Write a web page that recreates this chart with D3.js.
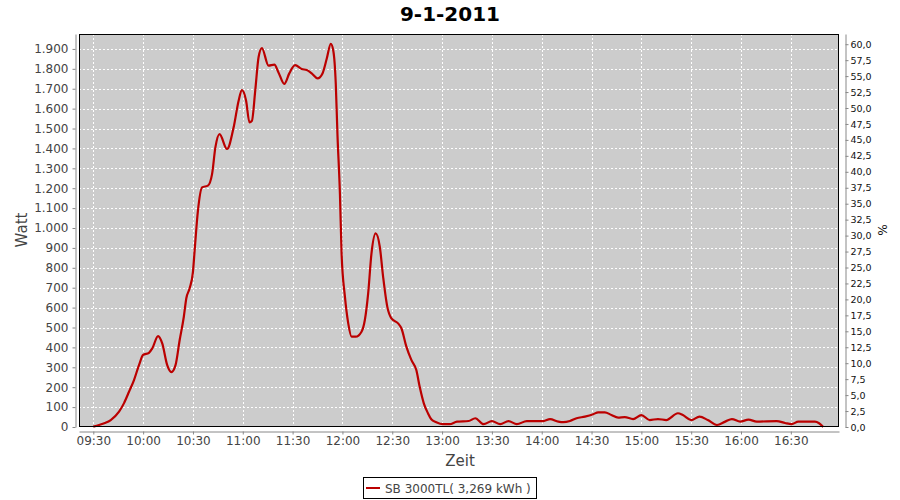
<!DOCTYPE html>
<html>
<head>
<meta charset="utf-8">
<script src="https://cdn.jsdelivr.net/npm/d3@7/dist/d3.min.js"></script>
<style>
  html, body { margin: 0; padding: 0; background: #ffffff; }
  svg { display: block; }
  text { font-family: "DejaVu Sans", sans-serif; }
</style>
</head>
<body>
<svg id="chart" width="900" height="500"></svg>
<script>
// ---- data ----
const title = "9-1-2011";
const seriesName = "SB 3000TL( 3,269 kWh )";
const times = [
  "09:30:00","09:33:30","09:37:00","09:40:30","09:45:30","09:48:30","09:51:30","09:54:30","09:57:30","10:00:00",
  "10:03:30","10:05:30","10:09:00","10:11:30","10:14:30","10:17:00","10:19:30","10:22:00","10:24:30","10:26:00",
  "10:28:00","10:30:00","10:31:00","10:33:00","10:35:30","10:39:00","10:41:30","10:43:30","10:46:00","10:50:30",
  "10:54:30","10:57:30","10:59:30","11:02:00","11:04:00","11:05:30","11:07:30","11:09:30","11:11:30","11:15:30",
  "11:19:00","11:21:30","11:25:00","11:28:00","11:31:30","11:35:30","11:38:30","11:41:30","11:45:00","11:48:00",
  "11:50:30","11:53:00","11:54:30","11:56:00","11:57:00","11:58:30","11:59:30","12:01:30","12:03:30","12:05:30",
  "12:08:00","12:11:30","12:13:30","12:15:30","12:17:30","12:20:00","12:22:30","12:24:30","12:27:00","12:29:30",
  "12:33:30","12:35:30","12:38:30","12:41:30","12:44:30","12:46:30","12:49:00","12:51:30","12:53:30","12:56:30",
  "13:00:30","13:04:30","13:09:00","13:16:00","13:20:00","13:25:00","13:30:00","13:35:00","13:40:00","13:45:00",
  "13:51:00","14:01:00","14:05:00","14:10:00","14:13:00","14:17:00","14:21:00","14:26:00","14:31:00","14:34:00",
  "14:38:00","14:42:00","14:46:00","14:50:00","14:55:00","15:00:00","15:05:00","15:10:00","15:15:00","15:22:00",
  "15:25:00","15:30:00","15:35:00","15:40:00","15:45:30","15:50:30","15:54:30","15:59:30","16:04:30","16:09:30",
  "16:21:30","16:26:30","16:30:30","16:34:30","16:44:30","16:47:00","16:49:30"
];
const watts = [
  2,10,20,35,77,120,177,236,311,362,
  373,395,457,420,311,276,311,437,554,647,
  697,780,886,1087,1204,1213,1271,1405,1472,1397,
  1506,1640,1693,1640,1531,1539,1690,1858,1904,1816,
  1821,1782,1724,1777,1819,1799,1794,1777,1752,1777,
  1849,1925,1891,1724,1472,1171,869,655,521,454,
  454,479,538,672,873,973,906,755,605,546,
  521,496,404,337,286,203,119,69,39,24,
  14,14,27,30,44,14,30,14,30,14,
  30,30,40,27,24,30,44,52,64,74,
  74,60,47,50,40,60,35,40,35,69,
  60,35,52,35,10,27,40,27,37,27,
  30,20,14,27,27,19,0
];
const xTickLabels = ["09:30","10:00","10:30","11:00","11:30","12:00","12:30","13:00","13:30","14:00","14:30","15:00","15:30","16:00","16:30"];
const leftTicks = [0,100,200,300,400,500,600,700,800,900,1000,1100,1200,1300,1400,1500,1600,1700,1800,1900];
const rightTicks = [0,2.5,5,7.5,10,12.5,15,17.5,20,22.5,25,27.5,30,32.5,35,37.5,40,42.5,45,47.5,50,52.5,55,57.5,60];
const xDomain = ["09:21:23","16:59:00"];
const leftDomain = [0, 1975];
const rightDomain = [0, 61.6];

// ---- layout ----
const plot = {left: 79, top: 34, right: 839, bottom: 427};
const parse = d3.timeParse("%H:%M:%S");
const parseHM = d3.timeParse("%H:%M");
const data = times.map((t, i) => ({t: parse(t), v: watts[i]}));

const svg = d3.select("#chart");
const x = d3.scaleTime().domain(xDomain.map(parse)).range([plot.left, plot.right]);
const y = d3.scaleLinear().domain(leftDomain).range([plot.bottom, plot.top]);
const y2 = d3.scaleLinear().domain(rightDomain).range([plot.bottom, plot.top]);

const deFmt = d3.formatLocale({decimal: ",", thousands: ".", grouping: [3], currency: ["", "€"]});
const fmtLeft = deFmt.format(",d");
const fmtRight = deFmt.format(".1f");

// title
svg.append("text").attr("x", 450).attr("y", 21).attr("text-anchor", "middle")
  .attr("font-size", 20).attr("font-weight", "bold").attr("fill", "#000").text(title);

// plot background
svg.append("rect").attr("x", plot.left).attr("y", plot.top)
  .attr("width", plot.right - plot.left).attr("height", plot.bottom - plot.top)
  .attr("fill", "#cccccc");

// gridlines
const grid = svg.append("g").attr("stroke", "#ffffff").attr("stroke-width", 1).attr("stroke-dasharray", "2,2");
leftTicks.forEach(v => {
  grid.append("line").attr("x1", plot.left).attr("x2", plot.right)
    .attr("y1", Math.round(y(v)) + 0.5).attr("y2", Math.round(y(v)) + 0.5);
});
const xTickDates = xTickLabels.map(parseHM);
xTickDates.forEach(d => {
  grid.append("line").attr("y1", plot.top).attr("y2", plot.bottom)
    .attr("x1", Math.round(x(d)) + 0.5).attr("x2", Math.round(x(d)) + 0.5);
});

// series line
const line = d3.line().x(d => x(d.t)).y(d => y(d.v)).curve(d3.curveMonotoneX);
svg.append("path").datum(data).attr("d", line)
  .attr("fill", "none").attr("stroke", "#bb0000").attr("stroke-width", 2.2)
  .attr("stroke-linejoin", "round");

// plot border
svg.append("rect").attr("x", plot.left + 0.5).attr("y", plot.top + 0.5)
  .attr("width", plot.right - plot.left - 1).attr("height", plot.bottom - plot.top - 1)
  .attr("fill", "none").attr("stroke", "#000").attr("stroke-width", 1);

// left axis
const leftAxis = d3.axisLeft(y).tickValues(leftTicks).tickFormat(fmtLeft).tickSizeInner(3).tickSizeOuter(0).tickPadding(4);
const gL = svg.append("g").attr("transform", "translate(75.5,0)").call(leftAxis);
gL.selectAll("text").attr("font-size", 12).attr("fill", "#444").attr("font-family", "DejaVu Sans");
gL.selectAll("line").attr("stroke", "#888");
gL.select(".domain").attr("stroke", "#888");

// bottom axis
const bottomAxis = d3.axisBottom(x).tickValues(xTickDates).tickFormat(d3.timeFormat("%H:%M")).tickSizeInner(3).tickSizeOuter(0).tickPadding(2);
const gB = svg.append("g").attr("transform", "translate(0,431.5)").call(bottomAxis);
gB.selectAll("text").attr("font-size", 12).attr("fill", "#444").attr("font-family", "DejaVu Sans");
gB.selectAll("line").attr("stroke", "#888");
gB.select(".domain").attr("stroke", "#888");

// right axis
const rightAxis = d3.axisRight(y2).tickValues(rightTicks).tickFormat(fmtRight).tickSizeInner(3).tickSizeOuter(0).tickPadding(2);
const gR = svg.append("g").attr("transform", "translate(845.5,0)").call(rightAxis);
gR.selectAll("text").attr("font-size", 9.5).attr("fill", "#111").attr("font-family", "DejaVu Sans");
gR.selectAll("line").attr("stroke", "#888");
gR.select(".domain").attr("stroke", "#888");

// axis titles
svg.append("text").attr("transform", "translate(27,230) rotate(-90)").attr("text-anchor", "middle")
  .attr("font-size", 15).attr("fill", "#444").text("Watt");
svg.append("text").attr("x", 460).attr("y", 466).attr("text-anchor", "middle")
  .attr("font-size", 15).attr("fill", "#444").text("Zeit");
svg.append("text").attr("transform", "translate(878,230) rotate(90)").attr("text-anchor", "middle")
  .attr("font-size", 12).attr("fill", "#111").text("%");

// legend
const lg = svg.append("g");
lg.append("rect").attr("x", 363.5).attr("y", 477.5).attr("width", 173).attr("height", 21)
  .attr("fill", "#fff").attr("stroke", "#000").attr("stroke-width", 1);
lg.append("line").attr("x1", 366).attr("x2", 380).attr("y1", 488).attr("y2", 488)
  .attr("stroke", "#bb0000").attr("stroke-width", 2);
lg.append("text").attr("x", 385).attr("y", 492.5).attr("font-size", 12).attr("fill", "#444").text(seriesName);
</script>
</body>
</html>
